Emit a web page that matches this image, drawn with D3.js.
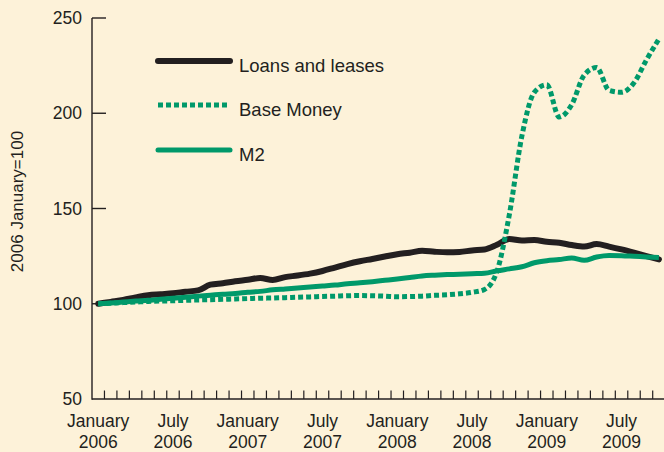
<!DOCTYPE html>
<html>
<head>
<meta charset="utf-8">
<script src="https://cdn.jsdelivr.net/npm/d3@7"></script>
<style>
  body { margin: 0; background: #fdf2d9; }
  svg { display: block; font-family: "Liberation Sans", Arial, sans-serif; }
  text { fill: #231f20; }
</style>
</head>
<body>
<svg id="chart" width="664" height="452"></svg>
<script>
// months Jan 2006 .. Dec 2009 (axis runs past the data and off the right edge)
var monthNames = ['January','February','March','April','May','June','July',
  'August','September','October','November','December'];
var months = [];
for (var yr = 2006; yr <= 2009; yr++) {
  for (var m = 0; m < 12; m++) months.push(yr + '-' + (m + 1));
}

// index values, 2006 January = 100, Jan 2006 .. Oct 2009
var loans = [100, 101, 102, 103.3, 104.5, 105, 105.5, 106.3, 107, 110,
  110.8, 111.8, 112.6, 113.5, 112.5, 114, 114.8, 115.8, 117.2, 119,
  120.8, 122.3, 123.5, 124.8, 126, 126.8, 127.8, 127.3, 127, 127.2,
  128, 128.5, 131, 134, 133.2, 133.4, 132.5, 132, 130.8, 130,
  131.3, 130, 128.5, 126.8, 125, 123.3];
var baseMoney = [100, 100.3, 100.6, 100.9, 101.2, 101.4, 101.6, 101.8, 102, 102.1,
  102.3, 102.5, 102.7, 102.9, 103, 103.2, 103.4, 103.6, 103.8, 104,
  104.2, 104.3, 104.2, 104, 103.7, 103.8, 104, 104.4, 104.7, 105.2,
  106, 107.5, 117, 147, 188, 211, 215, 198, 204.5, 220,
  224, 212, 211, 216, 228, 239];
var m2 = [100, 100.4, 100.9, 101.4, 101.8, 102.4, 102.9, 103.4, 104, 104.5,
  105, 105.4, 106, 106.5, 107.3, 107.8, 108.3, 108.8, 109.3, 109.8,
  110.5, 111, 111.6, 112.3, 113, 113.8, 114.6, 115, 115.3, 115.5,
  115.8, 116, 117.3, 118.3, 119.4, 121.5, 122.6, 123.2, 124, 122.8,
  124.5, 125.3, 125.2, 124.9, 124.6, 124.3];

var yTicks = [50, 100, 150, 200, 250];
var labelMonths = ['2006-1','2006-7','2007-1','2007-7','2008-1','2008-7','2009-1','2009-7'];

var ink = '#231f20', green = '#00996a';

var svg = d3.select('#chart');

var x = d3.scaleBand()
  .domain(months)
  .range([92, 92 + 12.46 * months.length])
  .padding(0);

var y = d3.scaleLinear()
  .domain([50, 250])
  .range([399, 18]);

function cx(i) { return x(months[i]) + x.bandwidth() / 2; }

// axes
var axisG = svg.append('g').attr('stroke', ink).attr('stroke-width', 1.4);
axisG.append('line')
  .attr('x1', 92).attr('x2', 92)
  .attr('y1', y(250)).attr('y2', y(50) + 0.7);
axisG.append('line')
  .attr('x1', 92).attr('x2', 664)
  .attr('y1', y(50)).attr('y2', y(50));

axisG.selectAll('.ytick')
  .data(yTicks.filter(d => d > 50))
  .enter()
  .append('line')
  .attr('x1', 92).attr('x2', 106)
  .attr('y1', d => y(d)).attr('y2', d => y(d));

axisG.selectAll('.xtick')
  .data(months.slice(1))
  .enter()
  .append('line')
  .attr('stroke-width', 1.2)
  .attr('x1', d => x(d)).attr('x2', d => x(d))
  .attr('y1', y(50)).attr('y2', y(50) - 8.5);

svg.selectAll('.ylab')
  .data(yTicks)
  .enter()
  .append('text')
  .attr('x', 82)
  .attr('y', d => y(d) + 6)
  .attr('text-anchor', 'end')
  .attr('font-size', 17.5)
  .text(d => d);

var xl = svg.selectAll('.xlab')
  .data(labelMonths)
  .enter()
  .append('text')
  .attr('text-anchor', 'middle')
  .attr('font-size', 17.5);
xl.append('tspan')
  .attr('x', d => x(d) + x.bandwidth() / 2)
  .attr('y', 427)
  .text(d => monthNames[+d.split('-')[1] - 1]);
xl.append('tspan')
  .attr('x', d => x(d) + x.bandwidth() / 2)
  .attr('y', 447.5)
  .text(d => d.split('-')[0]);

svg.append('text')
  .attr('transform', 'translate(23,201.5) rotate(-90)')
  .attr('text-anchor', 'middle')
  .attr('font-size', 17)
  .text('2006 January=100');

// series
var line = d3.line()
  .x((d, i) => cx(i))
  .y(d => y(d))
  .curve(d3.curveMonotoneX);

svg.append('path')
  .datum(loans)
  .attr('d', line)
  .attr('fill', 'none')
  .attr('stroke', ink)
  .attr('stroke-width', 6)
  .attr('stroke-linecap', 'round')
  .attr('stroke-linejoin', 'round');

svg.append('path')
  .datum(m2)
  .attr('d', line)
  .attr('fill', 'none')
  .attr('stroke', green)
  .attr('stroke-width', 5)
  .attr('stroke-linejoin', 'round');

svg.append('path')
  .datum(baseMoney)
  .attr('d', line)
  .attr('fill', 'none')
  .attr('stroke', green)
  .attr('stroke-width', 5)
  .attr('stroke-dasharray', '5,3');

// legend
var legend = [
  {name: 'Loans and leases', color: ink, width: 6, dash: null, cap: 'round', y: 61},
  {name: 'Base Money', color: green, width: 5, dash: '5,3', cap: 'butt', y: 105},
  {name: 'M2', color: green, width: 5, dash: null, cap: 'round', y: 150}
];
var lg = svg.selectAll('.leg')
  .data(legend)
  .enter()
  .append('g');
lg.append('line')
  .attr('x1', 158)
  .attr('x2', 230)
  .attr('y1', d => d.y).attr('y2', d => d.y)
  .attr('stroke', d => d.color)
  .attr('stroke-width', d => d.width)
  .attr('stroke-linecap', d => d.cap)
  .attr('stroke-dasharray', d => d.dash);
lg.append('text')
  .attr('x', 239)
  .attr('y', d => d.y + 11)
  .attr('font-size', 18.5)
  .text(d => d.name);
</script>
</body>
</html>
